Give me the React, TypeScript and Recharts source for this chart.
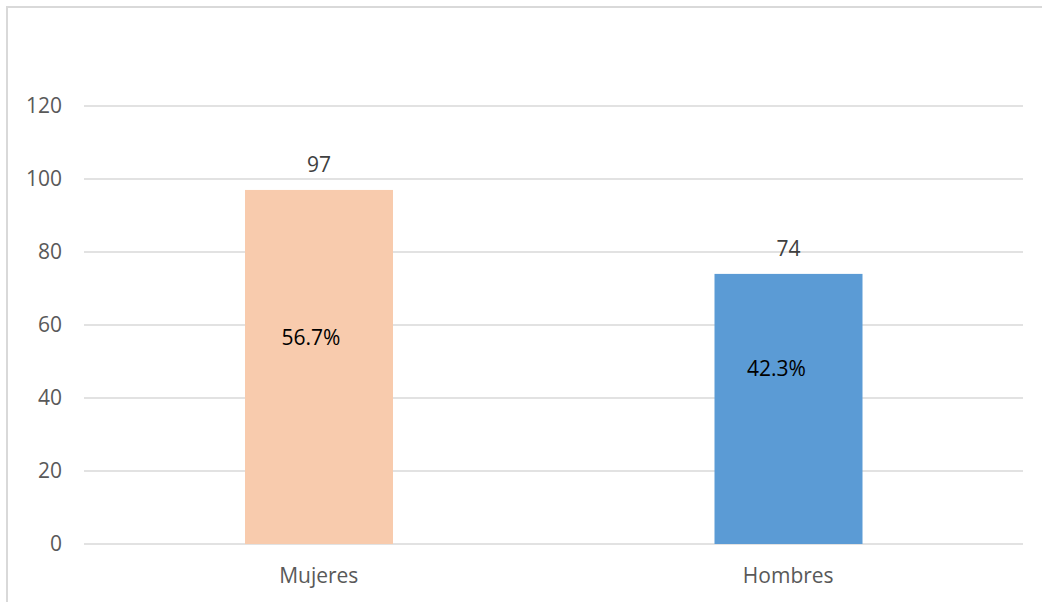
import { Bar, BarChart, CartesianGrid, LabelList, XAxis, YAxis } from "recharts";

// Respondents by sex: count on the bar, share of the total inside it.
const categories = ["Mujeres", "Hombres"];
const counts = [97, 74];
const shares = ["56.7%", "42.3%"];
const yTicks = [0, 20, 40, 60, 80, 100, 120];

const BAR_COLORS = ["#F8CBAD", "#5B9BD5"];
const FONT = "'Open Sans', 'Noto Sans', sans-serif";
const GRID = "#d9d9d9";

// The share labels were nudged by hand in the original, so keep their
// placement as a fraction of bar height (from the base) plus an x shift.
const SHARE_NUDGE = [
  { dx: -8, fy: 0.585 },
  { dx: -12, fy: 0.652 },
];

const data = categories.map((name, i) => ({
  name,
  count: counts[i],
  share: shares[i],
}));

function ShareLabel(props: any) {
  const { x, y, width, height, index, value } = props;
  const nudge = SHARE_NUDGE[index] ?? { dx: 0, fy: 0.5 };
  const cx = Number(x) + Number(width) / 2 + nudge.dx;
  const cy = Number(y) + Number(height) * (1 - nudge.fy);
  return (
    <text
      x={cx}
      y={cy}
      textAnchor="middle"
      dominantBaseline="central"
      fill="#000000"
      fontSize={21}
      fontFamily={FONT}
    >
      {value}
    </text>
  );
}

export default function App() {
  return (
    <div
      style={{
        position: "absolute",
        left: 0,
        top: 0,
        width: 1042,
        height: 602,
        background: "#ffffff",
      }}
    >
      <div
        style={{
          position: "absolute",
          left: 6,
          top: 6,
          right: 0,
          bottom: 0,
          borderTop: `2px solid ${GRID}`,
          borderLeft: `2px solid ${GRID}`,
        }}
      />
      <div style={{ position: "absolute", left: 0, top: 0 }}>
        <BarChart
          width={1042}
          height={602}
          data={data}
          margin={{ top: 106, right: 19, bottom: 28, left: 0 }}
        >
          <CartesianGrid vertical={false} stroke={GRID} strokeWidth={1.5} />
          <XAxis
            dataKey="name"
            height={30}
            axisLine={false}
            tickLine={false}
            tickMargin={18}
            tick={{ fill: "#595959", fontSize: 21, fontFamily: FONT }}
          />
          <YAxis
            width={84}
            domain={[0, 120]}
            ticks={yTicks}
            axisLine={false}
            tickLine={false}
            tickMargin={16}
            tick={{ fill: "#595959", fontSize: 21, fontFamily: FONT }}
          />
          <Bar
            dataKey="count"
            barSize={148}
            isAnimationActive={false}
            shape={(p: any) => (
              <rect
                x={p.x}
                y={p.y}
                width={p.width}
                height={p.height}
                fill={BAR_COLORS[p.index]}
              />
            )}
          >
            <LabelList
              dataKey="count"
              position="top"
              offset={18}
              style={{ fill: "#404040", fontSize: 21, fontFamily: FONT }}
            />
            <LabelList dataKey="share" content={ShareLabel} />
          </Bar>
        </BarChart>
      </div>
    </div>
  );
}
